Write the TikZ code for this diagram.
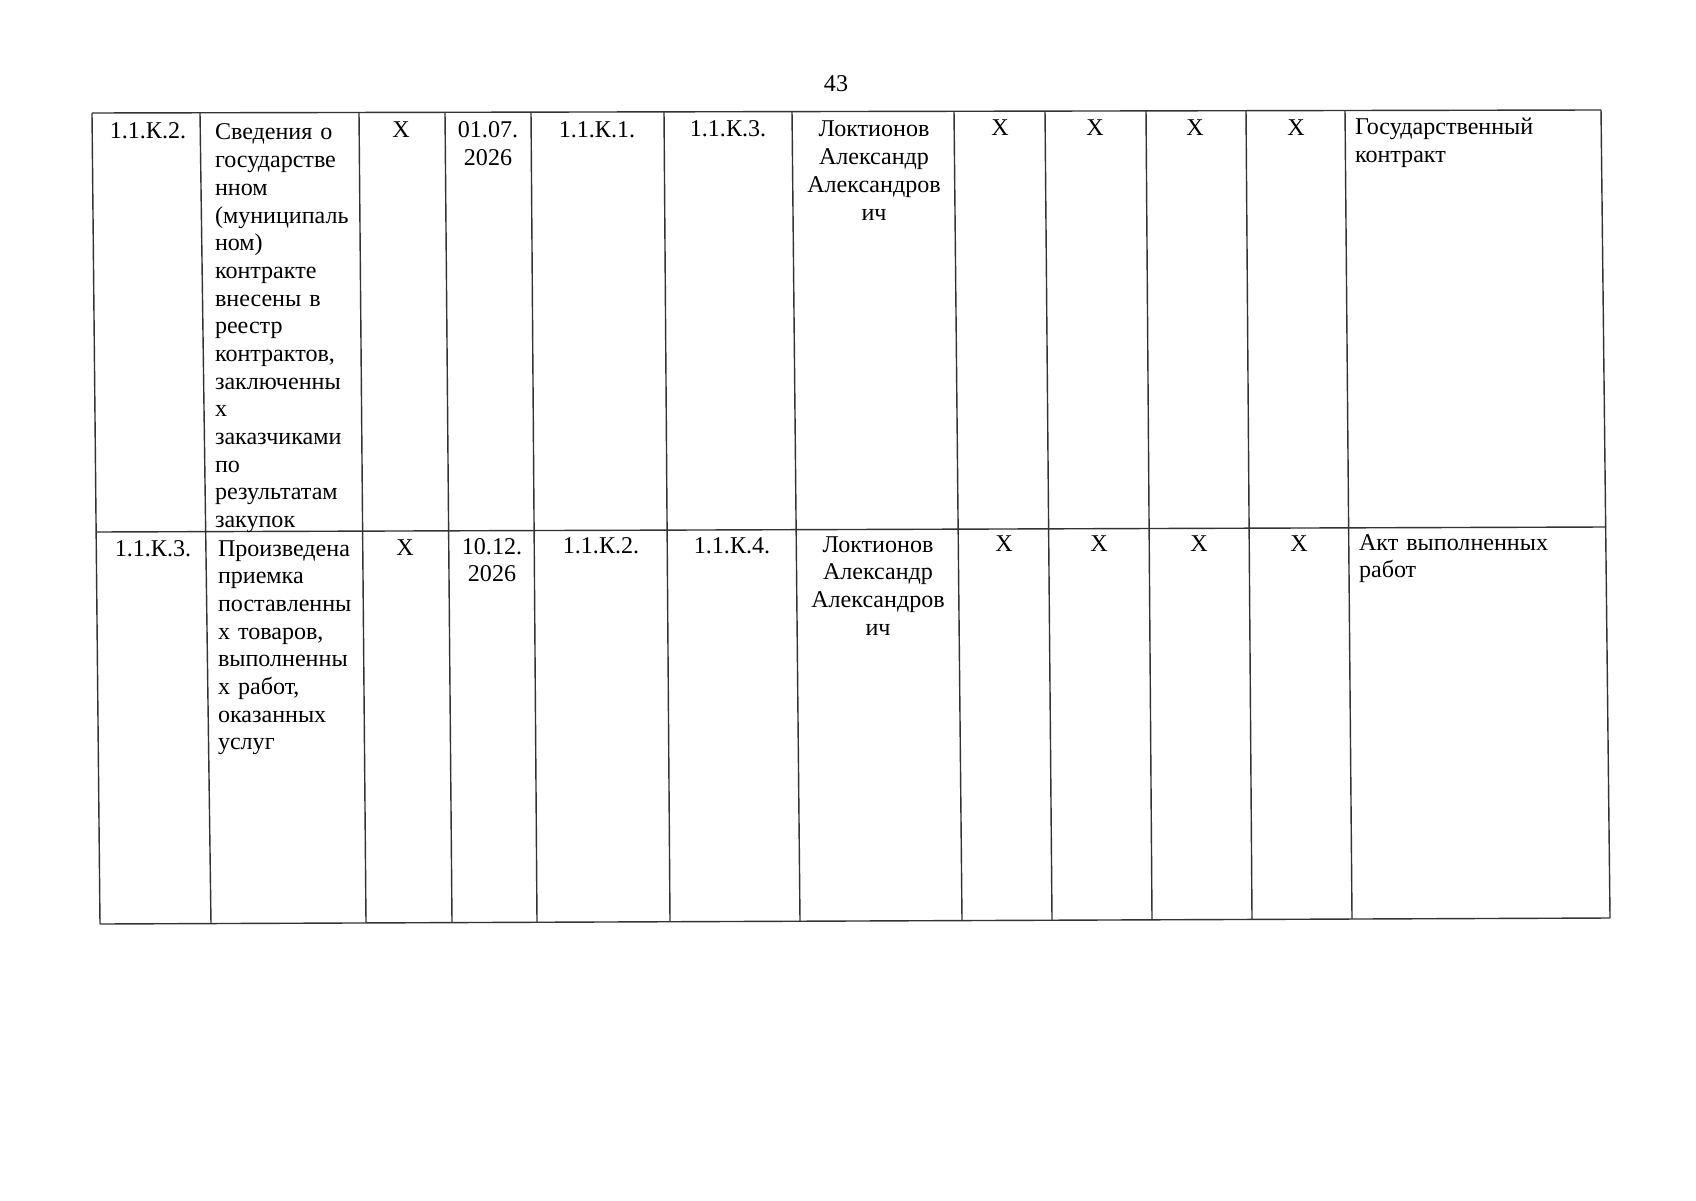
\documentclass[tikz,border=0pt]{standalone}
\usepackage{fontspec}
\setmainfont{Liberation Serif}
\begin{document}
\begin{tikzpicture}[x=0.017512cm,y=-0.017512cm,
  rule/.style={line width=0.7pt, draw=black!80},
  txt/.style={inner sep=0pt, outer sep=0pt, font=\fontsize{12}{13.8}\selectfont},
  lcell/.style={txt, anchor=base west, text width=#1, align=left},
  ccell/.style={txt, anchor=base, text width=#1, align=center},
]
\fill[white] (0,0) rectangle (1696,1200);
\useasboundingbox (0,0) rectangle (1696,1200);

% page number
\node[txt, anchor=base] (pg) at (836,92) {43};

% horizontal rules
\draw[rule] (92,113) -- (1601,110);
\draw[rule] (96,532) -- (1606,527);
\draw[rule] (100,924) -- (1610,918);

% vertical rules
\draw[rule] (92,113) -- (100,924);
\draw[rule] (200,112.8) -- (211,923.6);
\draw[rule] (359,112.5) -- (366,922.9);
\draw[rule] (445,112.3) -- (452,922.6);
\draw[rule] (531,112.1) -- (537,922.3);
\draw[rule] (664,111.9) -- (670,921.7);
\draw[rule] (792,111.6) -- (800,921.2);
\draw[rule] (954,111.3) -- (962,920.6);
\draw[rule] (1045,111.1) -- (1052,920.2);
\draw[rule] (1146,110.9) -- (1152,919.8);
\draw[rule] (1246,110.7) -- (1252,919.4);
\draw[rule] (1345,110.5) -- (1352,918.9);
\draw[rule] (1601,110) -- (1610,918);

% row 1
\node[ccell=50pt] (a1) at (148,139) {1.1.К.2.};
\node[lcell=85pt] (a2) at (215,140) {Сведения о\\государстве\\нном\\(муниципаль\\ном)\\контракте\\внесены в\\реестр\\контрактов,\\заключенны\\х\\заказчиками\\по\\результатам\\закупок};
\node[ccell=30pt] (a3) at (401,138) {X};
\node[ccell=40pt] (a4) at (488,138) {01.07.\\2026};
\node[ccell=60pt] (a5) at (597,138) {1.1.К.1.};
\node[ccell=60pt] (a6) at (728,137) {1.1.К.3.};
\node[ccell=80pt] (a7) at (874,137) {Локтионов\\Александр\\Александров\\ич};
\node[ccell=30pt] (a8) at (1000,136) {X};
\node[ccell=30pt] (a9) at (1095,136) {X};
\node[ccell=30pt] (a10) at (1195,136) {X};
\node[ccell=30pt] (a11) at (1296,136) {X};
\node[lcell=120pt] (a12) at (1355,135) {Государственный\\контракт};

% row 2
\node[ccell=50pt] (b1) at (153,556) {1.1.К.3.};
\node[lcell=85pt] (b2) at (218,556) {Произведена\\приемка\\поставленны\\х товаров,\\выполненны\\х работ,\\оказанных\\услуг};
\node[ccell=30pt] (b3) at (405,555) {X};
\node[ccell=40pt] (b4) at (492,554) {10.12.\\2026};
\node[ccell=60pt] (b5) at (601,553) {1.1.К.2.};
\node[ccell=60pt] (b6) at (732,553) {1.1.К.4.};
\node[ccell=80pt] (b7) at (878,552) {Локтионов\\Александр\\Александров\\ич};
\node[ccell=30pt] (b8) at (1004,551) {X};
\node[ccell=30pt] (b9) at (1099,551) {X};
\node[ccell=30pt] (b10) at (1199,551) {X};
\node[ccell=30pt] (b11) at (1299,551) {X};
\node[lcell=120pt] (b12) at (1359,550) {Акт выполненных\\работ};
\end{tikzpicture}
\end{document}
